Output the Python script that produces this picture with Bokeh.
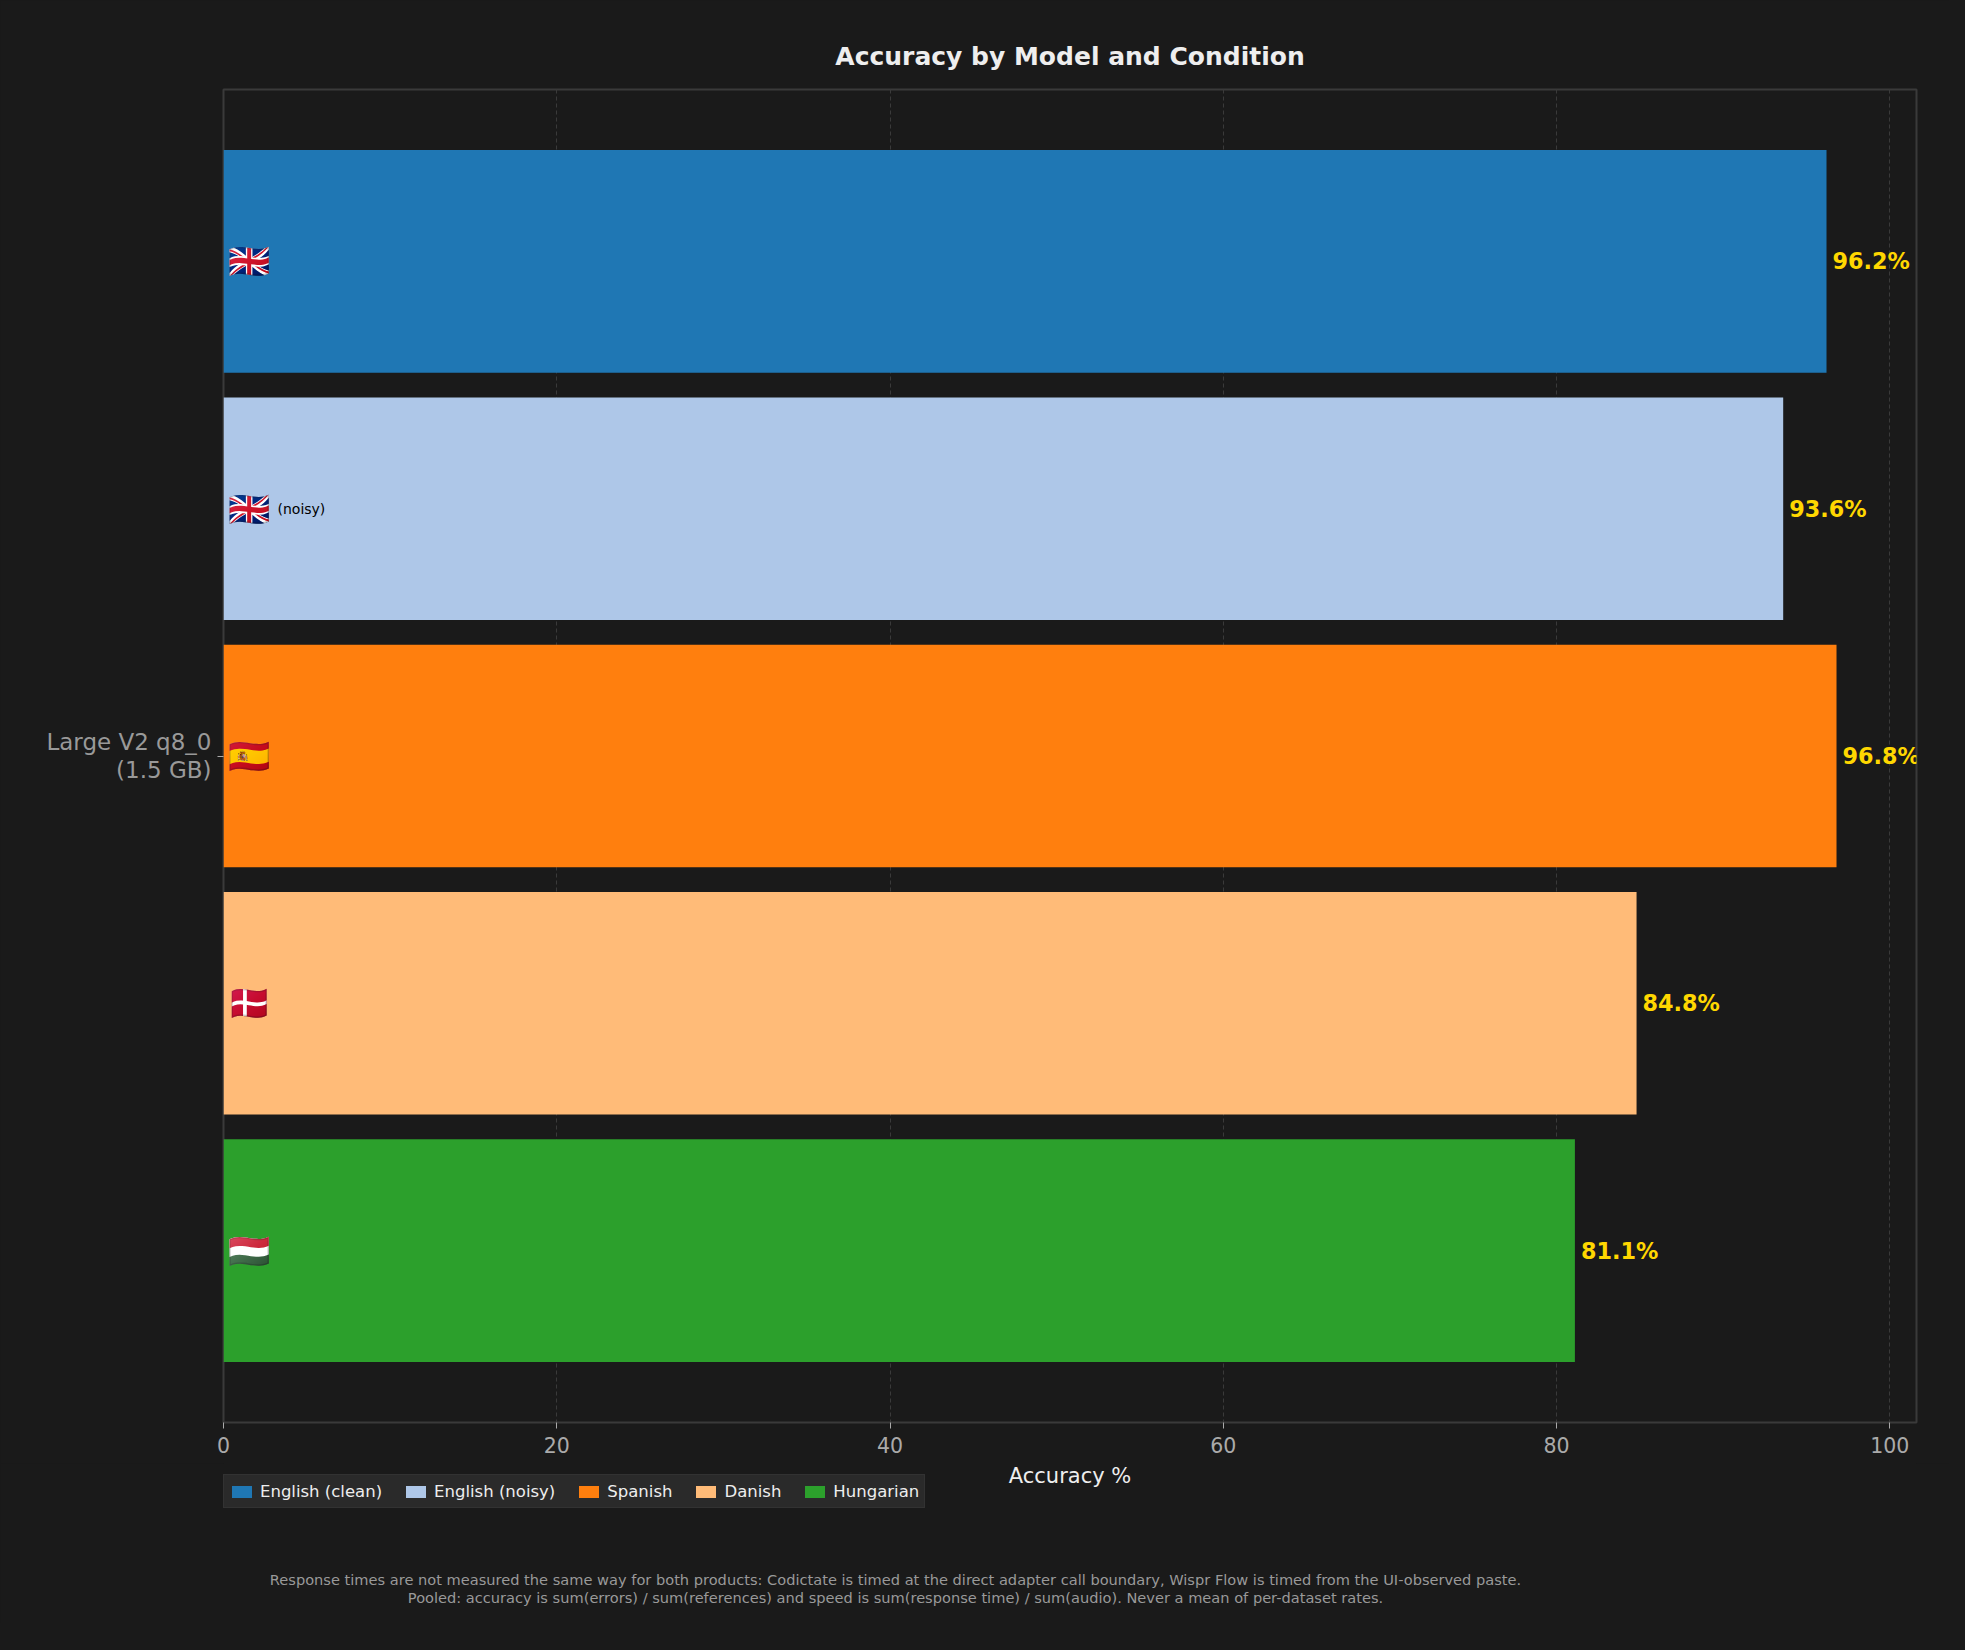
from bokeh.plotting import figure
from bokeh.layouts import column
from bokeh.models import Range1d, FixedTicker, Legend, LegendItem, ColumnDataSource, Label
from bokeh.core.properties import value
from bokeh.embed import file_html
from bokeh.resources import INLINE

# ---- data ----
model_label = "Large V2 q8_0\n(1.5 GB)"
conditions = ["English (clean)", "English (noisy)", "Spanish", "Danish", "Hungarian"]
accuracy = [96.2, 93.6, 96.8, 84.8, 81.1]
flags = ["\U0001F1EC\U0001F1E7", "\U0001F1EC\U0001F1E7", "\U0001F1EA\U0001F1F8", "\U0001F1E9\U0001F1F0", "\U0001F1ED\U0001F1FA"]
suffixes = ["", "(noisy)", "", "", ""]
colors = ["#1f77b4", "#aec7e8", "#ff7f0e", "#ffbb78", "#2ca02c"]
x_ticks = [0, 20, 40, 60, 80, 100]
title_text = "Accuracy by Model and Condition"
x_label = "Accuracy %"
footnote_lines = [
    "Response times are not measured the same way for both products: Codictate is timed at the direct adapter call boundary, Wispr Flow is timed from the UI-observed paste.",
    "Pooled: accuracy is sum(errors) / sum(references) and speed is sum(response time) / sum(audio). Never a mean of per-dataset rates.",
]

BG = "#1a1a1a"
FONT = "DejaVu Sans"

# layout constants (pixels)
LEFT, TOP, FW, FH, RIGHT, BOTTOM = 223, 89, 1693, 1333, 33, 41
W = LEFT + FW + RIGHT
TOP2 = TOP + FH + BOTTOM
H2 = 160

n = len(conditions)
ypos = list(range(n))
center = (n - 1) / 2

p = figure(frame_width=FW, frame_height=FH, output_backend="svg", toolbar_location=None,
           x_range=Range1d(0, 101.6), y_range=Range1d(n - 1 + 0.695, -0.695),
           min_border_left=LEFT, min_border_right=RIGHT, min_border_top=TOP, min_border_bottom=BOTTOM,
           background_fill_color=BG, border_fill_color=BG)
p.outline_line_color = "#3a3a3a"
p.outline_line_width = 2

p.title.text = title_text
p.title.align = "center"
p.title.text_font = FONT
p.title.text_font_size = "25px"
p.title.text_font_style = "bold"
p.title.text_color = "#eeeeee"
p.title.standoff = 37

for i in range(n):
    src = ColumnDataSource(dict(y=[ypos[i]], right=[accuracy[i]]))
    p.hbar(y="y", right="right", left=0, height=0.9, source=src,
           fill_color=colors[i], line_color=None)

lab_src = ColumnDataSource(dict(x=accuracy, y=ypos,
                                txt=[f"{v:.1f}%" for v in accuracy],
                                flag=flags, suf=suffixes, zero=[0] * n))
p.text(x="x", y="y", text="txt", source=lab_src, x_offset=6,
       text_font=value(FONT), text_font_style="bold", text_font_size="22.3px",
       text_color="#FFD700", text_baseline="middle", text_align="left")
p.text(x="zero", y="y", text="flag", source=lab_src, x_offset=4,
       text_font_size="34px", text_baseline="middle", text_align="left")
p.text(x="zero", y="y", text="suf", source=lab_src, x_offset=54,
       text_font=value(FONT), text_font_size="14px", text_color="#000000",
       text_baseline="middle", text_align="left")

# axes
p.xaxis.ticker = FixedTicker(ticks=x_ticks)
p.xaxis.major_label_text_font = FONT
p.xaxis.major_label_text_font_size = "20.5px"
p.xaxis.major_label_text_color = "#aaaaaa"
p.xaxis.major_label_standoff = 8
p.xaxis.axis_line_color = None
p.xaxis.major_tick_line_color = "#aaaaaa"
p.xaxis.major_tick_out = 6
p.xaxis.major_tick_in = 0
p.xaxis.minor_tick_line_color = None

p.yaxis.ticker = FixedTicker(ticks=[center])
p.yaxis.major_label_overrides = {center: model_label}
p.yaxis.major_label_text_font = FONT
p.yaxis.major_label_text_font_size = "23px"
p.yaxis.major_label_text_color = "#999999"
p.yaxis.major_label_text_align = "right"
p.yaxis.major_label_text_line_height = 1.05
p.yaxis.major_label_standoff = 6
p.yaxis.axis_line_color = None
p.yaxis.major_tick_line_color = "#aaaaaa"
p.yaxis.major_tick_out = 6
p.yaxis.major_tick_in = 0
p.yaxis.minor_tick_line_color = None

p.xgrid.grid_line_color = "#3a3a3a"
p.xgrid.grid_line_dash = "4 3"
p.xgrid.grid_line_width = 1
p.ygrid.grid_line_color = None

# ---- lower strip: axis title, legend, footnote (frame aligned with the main frame) ----
p2 = figure(width=W, height=H2, output_backend="svg", toolbar_location=None,
            x_range=Range1d(LEFT, LEFT + FW), y_range=Range1d(H2, 0),
            x_axis_type=None, y_axis_type=None, min_border=0,
            background_fill_color=BG, border_fill_color=BG, outline_line_color=None)
p2.xgrid.grid_line_color = None
p2.ygrid.grid_line_color = None

items = []
for i in range(n):
    # zero-length proxy bars: only used for the legend swatches
    r = p2.hbar(y=[ypos[i]], right=[LEFT], left=LEFT, height=0.9,
                fill_color=colors[i], line_color=None)
    items.append(LegendItem(label=conditions[i], renderers=[r]))

legend = Legend(items=items, orientation="horizontal", location=(0, H2 - (1508 - TOP2)),
                background_fill_color="#2a2a2a", background_fill_alpha=1.0,
                border_line_color="#3a3a3a", border_line_width=1,
                label_text_font=FONT, label_text_font_size="16.5px", label_text_color="#eeeeee",
                glyph_width=25, glyph_height=15, label_standoff=6, spacing=21,
                padding=5, margin=0, label_height=22)
p2.add_layout(legend, "center")

p2.add_layout(Label(x=LEFT + FW / 2, y=1475 - TOP2, text=x_label,
                    text_font=FONT, text_font_size="21px", text_color="#eeeeee",
                    text_align="center", text_baseline="middle"))
for line, yy in zip(footnote_lines, [1579, 1597]):
    p2.add_layout(Label(x=895, y=yy - TOP2, text=line,
                        text_font=FONT, text_font_size="14.6px", text_color="#999999",
                        text_align="center", text_baseline="middle"))

layout = column(p, p2, spacing=0)
html = file_html(layout, INLINE).replace("<head>", "<head><style>html,body{background:#1a1a1a;}</style>", 1)
open("out.html", "w").write(html)
